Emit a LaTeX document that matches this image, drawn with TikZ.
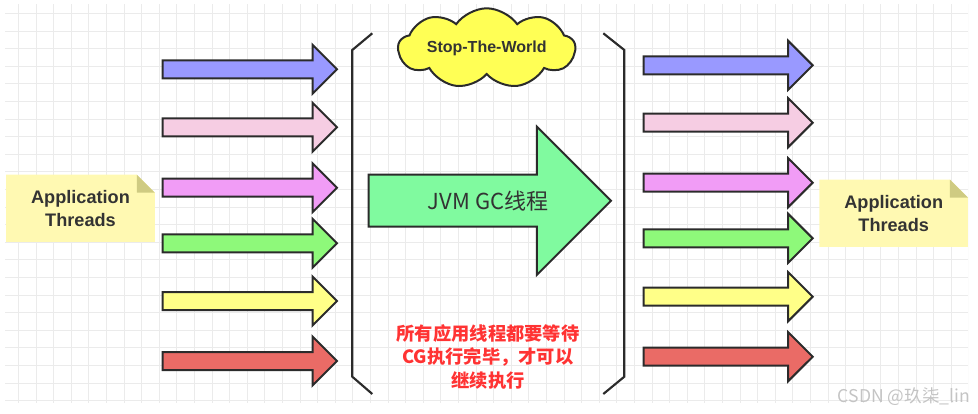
\documentclass[tikz,border=0pt]{standalone}
\usepackage{fontspec}
\setmainfont{Liberation Sans}
\newfontfamily\cjk{Noto Sans CJK SC}
\usepackage{xcolor}
\usetikzlibrary{shapes.arrows,shapes.symbols,positioning,backgrounds}
\pgfdeclarelayer{background}
\pgfsetlayers{background,main}
\definecolor{arrowblue}{HTML}{9999FF}
\definecolor{arrowpink}{HTML}{F6CDE3}
\definecolor{arrowviolet}{HTML}{F19CF6}
\definecolor{arrowgreen}{HTML}{8EF97A}
\definecolor{arrowyellow}{HTML}{FFFF88}
\definecolor{arrowred}{HTML}{EA6B66}
\definecolor{gcgreen}{HTML}{80FA9F}
\definecolor{cloudyellow}{HTML}{FFFF55}
\definecolor{notefill}{HTML}{FFF9B2}
\definecolor{notefold}{HTML}{CFCB82}
\definecolor{linegray}{HTML}{2B2B2B}
\definecolor{textgray}{HTML}{333333}
\definecolor{waitred}{HTML}{FF3333}
\definecolor{gridgray}{HTML}{EBEBEB}
\definecolor{markgray}{HTML}{C4C4C4}

\begin{document}
\begin{tikzpicture}[x=0.75pt,y=-0.75pt,line join=miter]
	\tikzstyle{thread}=[single arrow,draw=linegray,line width=1.5pt,inner xsep=0pt,inner ysep=6pt,
		single arrow head extend=11.6pt,minimum height=130.7pt]
	\tikzstyle{threadout}=[thread,minimum height=126.75pt]
	\tikzstyle{gcarrow}=[single arrow,draw=linegray,fill=gcgreen,line width=1.5pt,inner xsep=0pt,
		inner ysep=18.75pt,single arrow head extend=36pt,minimum height=181.7pt]
	\tikzstyle{note}=[minimum width=111pt,minimum height=50pt,align=center,text=textgray,
		font=\bfseries\fontsize{13.6}{17}\selectfont]
	\tikzstyle{bracket}=[draw=linegray,line width=1.6pt]
	\useasboundingbox (0,0) rectangle (978,414);
	% grid
	\begin{pgfonlayer}{background}
		\begin{scope}
			\clip (5,4) rectangle (968,402);
			\draw[gridgray,line width=0.6pt,shift={(0.7,13.3)},step=13.2pt] (-20,-20) grid (1000,420);
		\end{scope}
	\end{pgfonlayer}

	% threads before GC
	\node[thread,fill=arrowblue,anchor=tail]  (la1) at (161.7,69.3) {};
	\node[thread,fill=arrowpink]   (la2)[below of=la1,node distance=43.5pt] {};
	\node[thread,fill=arrowviolet] (la3)[below of=la2,node distance=45.3pt] {};
	\node[thread,fill=arrowgreen]  (la4)[below of=la3,node distance=41.7pt] {};
	\node[thread,fill=arrowyellow] (la5)[below of=la4,node distance=43.3pt] {};
	\node[thread,fill=arrowred]    (la6)[below of=la5,node distance=45pt] {};

	% threads after GC
	\node[threadout,fill=arrowblue,anchor=tail]  (ra1) at (642.7,65.3) {};
	\node[threadout,fill=arrowpink]   (ra2)[below of=ra1,node distance=43.05pt] {};
	\node[threadout,fill=arrowviolet] (ra3)[below of=ra2,node distance=45pt] {};
	\node[threadout,fill=arrowgreen]  (ra4)[below of=ra3,node distance=41.7pt] {};
	\node[threadout,fill=arrowyellow] (ra5)[below of=ra4,node distance=43.8pt] {};
	\node[threadout,fill=arrowred]    (ra6)[below of=ra5,node distance=45pt] {};

	% brackets
	\draw[bracket] (372.3,33.3) -- (352.3,50) -- (352.3,376.7) -- (372.3,394);
	\draw[bracket] (603.3,33.3) -- (624.3,50) -- (624.3,376.7) -- (603.3,394);

	% stop the world
	\node[cloud,cloud puffs=9,cloud puff arc=110,cloud ignores aspect,minimum width=127pt,minimum height=60pt,
		fill=cloudyellow,draw=linegray,line width=1.5pt,text=textgray,
		font=\bfseries\fontsize{12}{14}\selectfont] (stw) at (486.7,48.3) {Stop-The-World};

	% GC thread
	\node[gcarrow,anchor=tail] (gc) at (367.7,200.7) {};
	\node[text=textgray,font=\cjk\fontsize{16.5}{19}\selectfont] (gclabel) at (488,200.7) {JVM GC线程};

	\node[text=waitred,align=center,font=\cjk\bfseries\fontsize{13.7}{17.6}\selectfont] (wait) at (488,357)
		{所有应用线程都要等待\\CG执行完毕，才可以\\继续执行};

	% application threads notes
	\node[note] (appl) at (80.5,208.3) {Application\\Threads};
	\node[note] (appr) at (893.7,213.3) {Application\\Threads};
	\begin{pgfonlayer}{background}
		\foreach \n in {appl,appr}{
			\fill[notefill] (\n.north west) -- ([xshift=-13.5pt]\n.north east) -- ([yshift=-13.5pt]\n.north east)
				-- (\n.south east) -- (\n.south west) -- cycle;
			\fill[notefold] ([xshift=-13.5pt]\n.north east) -- ([xshift=-13.5pt,yshift=-13.5pt]\n.north east)
				-- ([yshift=-13.5pt]\n.north east) -- cycle;
		}
	\end{pgfonlayer}

	\node[text=markgray,font=\cjk\fontsize{13.2}{15}\selectfont] (mark) at (904,396.5) {CSDN @玖柒\_lin};
\end{tikzpicture}
\end{document}
